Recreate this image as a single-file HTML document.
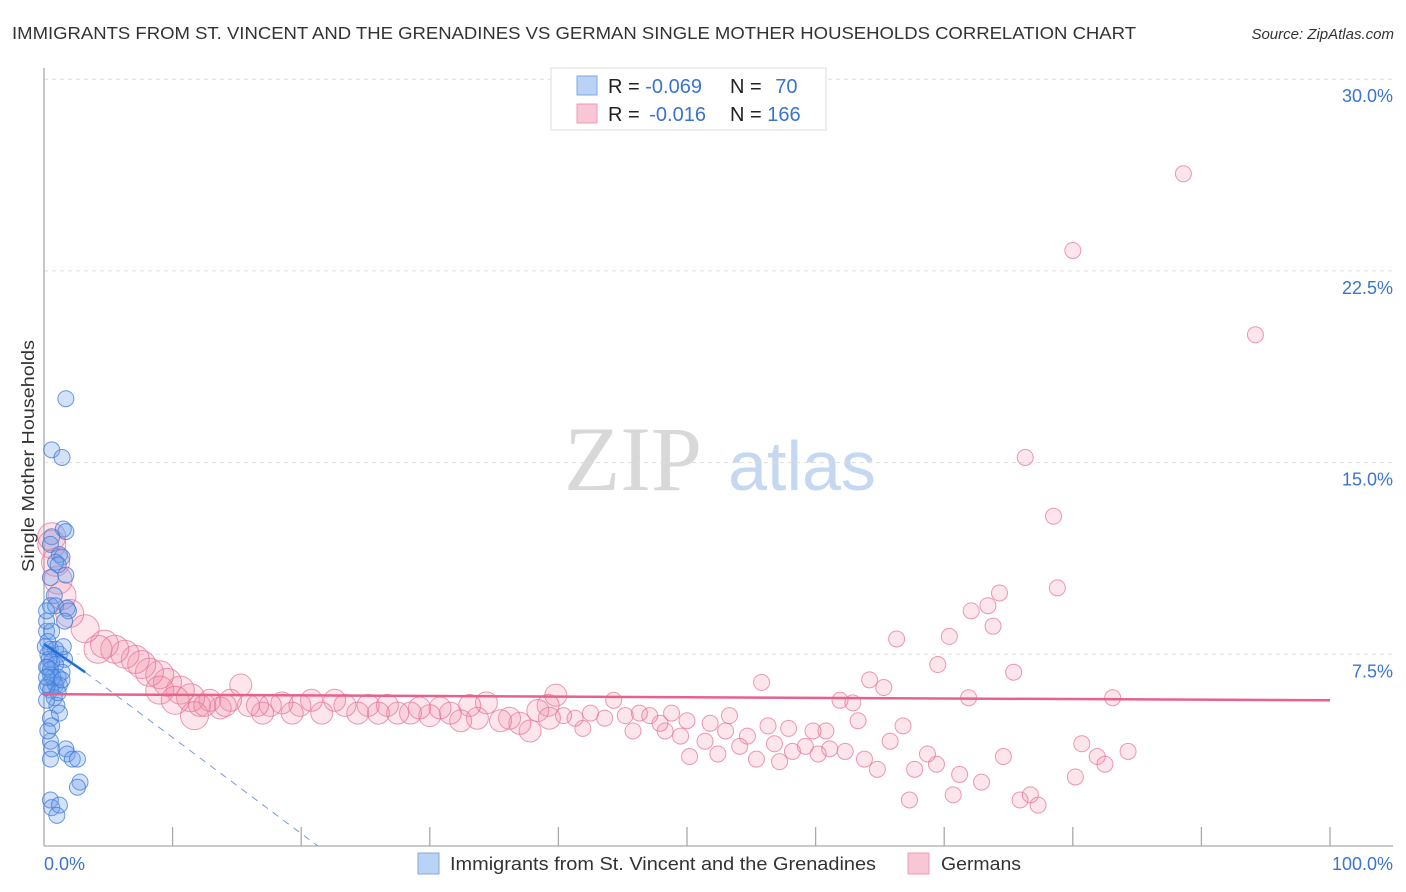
<!DOCTYPE html>
<html><head><meta charset="utf-8">
<style>
html,body{margin:0;padding:0;background:#fff;width:1406px;height:892px;overflow:hidden;font-family:"Liberation Sans",sans-serif}
svg{display:block}
</style></head>
<body>
<svg id="chart" width="1406" height="892" xmlns="http://www.w3.org/2000/svg">
<text x="12" y="39" font-size="17.5" fill="#333" textLength="1124" lengthAdjust="spacingAndGlyphs">IMMIGRANTS FROM ST. VINCENT AND THE GRENADINES VS GERMAN SINGLE MOTHER HOUSEHOLDS CORRELATION CHART</text>
<text x="1394" y="39" font-size="15" fill="#333" font-style="italic" text-anchor="end">Source: ZipAtlas.com</text>
<g>
<text x="633" y="490" font-size="92" fill="#d8d8d8" font-family="Liberation Serif,serif" text-anchor="middle">ZIP</text>
<text x="802" y="490" font-size="70" fill="#c5d8f1" text-anchor="middle">atlas</text>
</g>
<g id="grid"></g>
<g id="axes"></g>
<g id="pinkPts"></g>
<g id="bluePts"></g>
<g id="lines"></g>
<text transform="translate(34,456) rotate(-90)" font-size="17.5" fill="#333" text-anchor="middle" textLength="232" lengthAdjust="spacingAndGlyphs">Single Mother Households</text>
<text x="44" y="870" font-size="18" fill="#3a74d0">0.0%</text>
<text x="1393" y="870" font-size="18" fill="#3a74d0" text-anchor="end">100.0%</text>
<g>
<rect x="551" y="68" width="275" height="62" fill="#fff" stroke="#ddd"/>
<rect x="577" y="76" width="20" height="19" fill="#b9d3f5" stroke="#7ea8e6"/>
<rect x="577" y="104" width="20" height="19" fill="#f9c6d5" stroke="#ef9bb6"/>
<text x="608" y="93" font-size="20" fill="#222">R = <tspan fill="#3a74d0">-0.069</tspan></text>
<text x="730" y="93" font-size="20" fill="#222">N = <tspan fill="#3a74d0" dx="8">70</tspan></text>
<text x="608" y="121" font-size="20" fill="#222">R = <tspan fill="#3a74d0" dx="4">-0.016</tspan></text>
<text x="730" y="121" font-size="20" fill="#222">N = <tspan fill="#3a74d0">166</tspan></text>
</g>
<g>
<rect x="418" y="853" width="21" height="21" fill="#b9d3f5" stroke="#7ea8e6"/>
<text x="450" y="870" font-size="18.5" fill="#333" textLength="426" lengthAdjust="spacingAndGlyphs">Immigrants from St. Vincent and the Grenadines</text>
<rect x="908" y="853" width="21" height="21" fill="#f9c6d5" stroke="#ef9bb6"/>
<text x="941" y="870" font-size="18.5" fill="#333" textLength="80" lengthAdjust="spacingAndGlyphs">Germans</text>
</g>
</svg>
<script>
const yTicks=[7.5,15,22.5,30];
const yTickLabels=["7.5%","15.0%","22.5%","30.0%"];
const xTicks=[10,20,30,40,50,60,70,80,90,100];
const blueX=[1.7,0.6,1.4,1.5,1.7,0.6,0.5,1.2,1.4,0.9,1.1,1.7,0.5,0.8,0.5,0.9,1.8,1.9,0.2,0.6,0.3,0.5,0.9,0.3,1.2,1.6,0.6,0.3,0.9,1.4,0.5,1.1,0.8,0.3,0.9,1.2,0.5,0.8,1.0,1.2,0.5,0.6,0.5,0.6,1.7,1.8,2.2,2.6,2.8,2.6,0.5,0.6,1.2,1.0,0.2,0.2,0.2,0.4,0.5,0.7,0.1,0.2,0.3,0.5,0.2,0.2,1.1,1.5,1.4,1.6];
const blueY=[17.5,15.5,15.2,12.4,12.3,12.1,11.8,11.4,11.3,11.1,11.0,10.6,10.5,9.8,9.4,9.4,9.3,9.2,8.4,8.4,8.0,7.7,7.7,7.5,7.5,7.3,7.2,7.0,7.1,6.8,6.7,6.6,6.4,6.3,6.3,6.3,6.1,5.8,5.5,5.2,5.0,4.7,4.1,3.8,3.8,3.6,3.4,3.4,2.5,2.3,1.8,1.5,1.6,1.2,5.7,8.8,9.2,7.3,6.9,6.6,7.8,6.2,4.5,3.4,7.0,6.6,6.0,7.8,6.5,8.8];
const pinkX=[55.8,66.3,70.4,69.5,64.2,65.3,61.9,62.9,63.3,71.9,72.1,73.4,74.3,73.8,75.4,83.1,76.3,78.5,78.8,80.0,88.6,94.2,80.7,80.2,81.9,82.5,84.3,75.9,76.7,77.3,74.6,72.9,71.2,70.7,69.4,68.7,67.7,67.3,65.8,66.8,64.8,63.8,62.3,61.1,60.2,60.8,59.8,59.2,58.2,57.9,57.2,56.8,56.3,55.4,54.7,54.1,53.3,53.0,52.4,51.8,51.4,50.2,49.5,50.0,48.8,48.3,47.9,47.1,45.8,46.3,45.2,44.3,43.6,42.5,41.9,41.3,40.4,39.8,39.2,39.3,38.4,37.8,37.0,36.2,35.5,34.4,33.7,33.1,32.4,31.6,30.8,30.0,29.2,28.5,27.5,26.7,26.0,25.2,24.4,23.4,22.6,21.6,20.8,19.9,19.3,18.5,17.6,17.0,15.9,15.3,14.5,13.7,12.9,12.1,11.4,10.6,9.6,9.0,8.2,7.6,7.1,6.3,5.5,4.7,4.2,3.2,2.0,1.4,1.1,0.9,0.6,0.6,9.0,10.2,11.7,12.5,14.1,16.6];
const pinkY=[6.4,8.1,8.2,7.1,6.5,6.2,5.7,5.6,4.9,5.8,9.2,9.4,9.9,8.6,6.8,5.8,15.2,12.9,10.1,23.3,26.3,20.0,4.0,2.7,3.5,3.2,3.7,1.8,2.0,1.6,3.5,2.5,2.8,2.0,3.2,3.6,3.0,1.8,4.1,4.7,3.0,3.4,3.7,3.8,3.6,4.5,4.5,3.9,3.7,4.6,3.3,4.0,4.7,3.4,4.3,3.9,5.1,4.5,3.6,4.8,4.1,3.5,4.3,4.9,5.2,4.5,4.8,5.1,4.5,5.2,5.1,5.7,5.0,5.2,4.6,5.0,5.1,5.9,5.5,5.0,5.3,4.5,4.8,5.0,4.9,5.6,5.0,5.5,4.9,5.2,5.4,5.1,5.4,5.2,5.2,5.5,5.2,5.5,5.2,5.5,5.7,5.2,5.7,5.5,5.2,5.6,5.5,5.2,5.5,6.3,5.7,5.4,5.7,5.5,5.8,6.1,6.4,6.7,6.8,7.1,7.3,7.5,7.7,7.9,7.7,8.5,9.1,9.8,10.4,11.1,11.8,12.1,6.1,5.7,5.1,5.5,5.5,5.5];
const pinkTrend=[5.94,5.7];
const blueTrend=[7.9,6.8];
const blueDash=[6.8,0];
const blueDashX=[3.2,21.3];

const X0=44,X1=1330,Y0=846,PY=25.56;
const sx=v=>X0+(X1-X0)*v/100;
const sy=v=>Y0-v*PY;
const NS="http://www.w3.org/2000/svg";
function mk(tag,attrs,parent){const e=document.createElementNS(NS,tag);for(const k in attrs)e.setAttribute(k,attrs[k]);parent.appendChild(e);return e;}
const grid=document.getElementById('grid');
yTicks.forEach((t,i)=>{
  const l=mk('line',{x1:44,x2:1393,y1:sy(t),y2:sy(t),stroke:'#ddd','stroke-dasharray':'4,4'},grid);
  
  
  const tx=mk('text',{x:1393,y:sy(t)+23,'font-size':18,fill:'#3a74d0','text-anchor':'end'},grid);
  tx.textContent=yTickLabels[i];
  
  
});
const axes=document.getElementById('axes');
const ya=mk('line',{x1:44,x2:44,y1:68,y2:846,stroke:'#aaa','stroke-width':1.3},axes);


const xa=mk('line',{x1:44,x2:1393,y1:846,y2:846,stroke:'#aaa','stroke-width':1.3},axes);


xTicks.forEach(t=>{
  const l=mk('line',{x1:sx(t),x2:sx(t),y1:827,y2:846,stroke:'#aaa','stroke-width':1.3},axes);
  
  
});
const pg=document.getElementById('pinkPts');
pinkX.forEach((x,i)=>{
  const r=x<12?14:(x<40?11:8);
  const c=mk('circle',{cx:sx(x),cy:sy(pinkY[i]),r:r,fill:'rgba(242,140,170,0.22)',stroke:'rgba(230,110,150,0.7)','stroke-width':1},pg);
  
  
});
const bg=document.getElementById('bluePts');
blueX.forEach((x,i)=>{
  const c=mk('circle',{cx:sx(x),cy:sy(blueY[i]),r:8,fill:'rgba(110,160,235,0.3)',stroke:'rgba(60,120,215,0.75)','stroke-width':1},bg);
  
  
});
const lg=document.getElementById('lines');
const pl=mk('line',{x1:sx(0),x2:sx(100),y1:sy(pinkTrend[0]),y2:sy(pinkTrend[1]),stroke:'#e8618c','stroke-width':2.5},lg);


const bd=mk('line',{x1:sx(blueDashX[0]),x2:sx(blueDashX[1]),y1:sy(blueDash[0]),y2:sy(blueDash[1]),stroke:'#7a9ad8','stroke-width':1,'stroke-dasharray':'7,6'},lg);


const bl=mk('line',{x1:sx(0),x2:sx(blueDashX[0]),y1:sy(blueTrend[0]),y2:sy(blueTrend[1]),stroke:'#1f6fd6','stroke-width':2.5},lg);


</script>
</body></html>
